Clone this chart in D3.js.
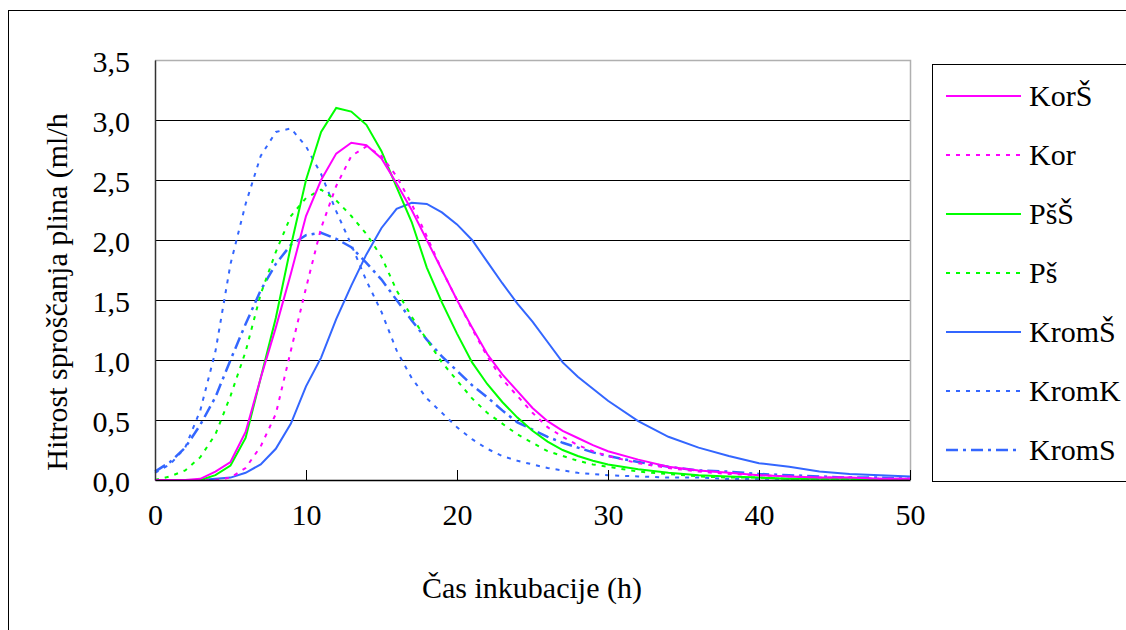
<!DOCTYPE html>
<html><head><meta charset="utf-8"><script src="https://cdn.jsdelivr.net/npm/d3@7"></script></head>
<body style="margin:0">
<svg id="s" width="1126" height="630"></svg>
<script>
// hours of incubation
var hours = [0,1,2,3,4,5,6,7,8,9,10,11,12,13,14,15,16,17,18,19,20,
	21,22,23,24,25,26,27,28,29,30,32,34,36,38,40,42,44,46,48,50];

var korS  = [0,0,0,0.01,0.07,0.15,0.4,0.85,1.27,1.72,2.2,2.5,2.72,2.81,2.79,2.68,2.47,2.25,2.0,1.75,1.5,
	1.27,1.05,0.88,0.74,0.6,0.49,0.41,0.35,0.29,0.24,0.17,0.11,0.08,0.06,0.04,0.03,0.02,0.02,0.01,0.01];
var kor   = [0,0,0,0,0,0.02,0.1,0.28,0.55,1.08,1.6,2.1,2.45,2.7,2.78,2.7,2.53,2.3,2.03,1.75,1.5,
	1.26,1.03,0.84,0.7,0.56,0.44,0.36,0.29,0.24,0.2,0.14,0.1,0.07,0.05,0.04,0.03,0.02,0.02,0.01,0.01];
var psS   = [0,0,0,0,0.04,0.12,0.35,0.85,1.35,1.95,2.5,2.9,3.1,3.07,2.96,2.74,2.44,2.15,1.77,1.48,1.22,
	0.98,0.8,0.65,0.52,0.41,0.32,0.25,0.2,0.16,0.13,0.09,0.06,0.04,0.03,0.02,0.01,0.01,0.01,0,0];
var ps    = [0,0.03,0.08,0.19,0.38,0.7,1.07,1.55,1.9,2.2,2.35,2.42,2.33,2.2,2.05,1.86,1.58,1.36,1.17,0.98,0.83,
	0.68,0.56,0.47,0.38,0.31,0.24,0.2,0.16,0.13,0.11,0.07,0.05,0.03,0.02,0.02,0.01,0.01,0.01,0,0];
var kromS = [0,0,0,0,0.01,0.02,0.06,0.13,0.26,0.47,0.78,1.02,1.34,1.62,1.88,2.1,2.26,2.31,2.3,2.23,2.13,
	2.0,1.82,1.64,1.47,1.32,1.15,0.98,0.86,0.76,0.66,0.49,0.36,0.27,0.2,0.14,0.11,0.07,0.05,0.04,0.03];
var kromK = [0.06,0.13,0.27,0.58,1.07,1.8,2.3,2.7,2.9,2.93,2.78,2.55,2.24,1.96,1.66,1.4,1.08,0.85,0.68,0.56,0.44,
	0.34,0.26,0.2,0.16,0.13,0.1,0.08,0.06,0.05,0.04,0.03,0.02,0.02,0.01,0.01,0.01,0.01,0.01,0.01,0.01];
var kromSS = [0.07,0.15,0.27,0.46,0.69,1.0,1.3,1.58,1.8,1.96,2.04,2.06,2.01,1.94,1.81,1.67,1.5,1.33,1.17,1.03,0.91,
	0.79,0.69,0.58,0.48,0.42,0.36,0.31,0.27,0.23,0.2,0.15,0.11,0.08,0.07,0.05,0.04,0.03,0.02,0.02,0.01];

var seriesNames = ["KorŠ", "Kor", "PšŠ", "Pš", "KromŠ", "KromK", "KromS"];
var seriesValues = [korS, kor, psS, ps, kromS, kromK, kromSS];
var seriesColors = ["#ff00ff", "#ff00ff", "#00ff00", "#00ff00", "#3366ff", "#3366ff", "#3366ff"];
var seriesDash = [null, "4,6", null, "4,6", null, "4,6", "12,5,3,5"];

var xTicks = [0, 10, 20, 30, 40, 50];
var yTicks = [0, 0.5, 1, 1.5, 2, 2.5, 3, 3.5];

var textStyle = "font-family: 'Liberation Serif' !important; font-size: 30px; fill: #000";

var svg = d3.select("#s");

// outer frame
svg.append("rect")
	.attr("x", 8.5).attr("y", 10.5)
	.attr("width", 1130).attr("height", 640)
	.attr("fill", "none").attr("stroke", "#000").attr("stroke-width", 1);

var plotLeft = 155, plotRight = 910, plotTop = 60, plotBottom = 480;

var x = d3.scaleLinear().domain([0, 50]).range([plotLeft, plotRight]);
var y = d3.scaleLinear().domain([0, 3.5]).range([plotBottom, plotTop]);

// gridlines
svg.append("g").selectAll("line")
	.data(yTicks.filter(function (d) { return d > 0 && d < 3.5; }))
	.enter().append("line")
	.attr("x1", plotLeft).attr("x2", plotRight)
	.attr("y1", function (d) { return Math.round(y(d)) + 0.5; })
	.attr("y2", function (d) { return Math.round(y(d)) + 0.5; })
	.attr("stroke", "#000").attr("stroke-width", 1);

// plot area border (top/right grey)
svg.append("path")
	.attr("d", "M" + plotLeft + "," + (plotTop + 0.5) + "H" + (plotRight + 0.5) + "V" + plotBottom)
	.attr("fill", "none").attr("stroke", "#b0b0b0").attr("stroke-width", 1.5);

// lines
var line = d3.line()
	.x(function (d) { return x(d[0]); })
	.y(function (d) { return y(d[1]); });

[6, 5, 4, 3, 2, 1, 0].forEach(function (i) {
	var pts = hours.map(function (h, j) { return [h, seriesValues[i][j]]; });
	svg.append("path")
		.datum(pts)
		.attr("d", line)
		.attr("fill", "none")
		.attr("stroke", seriesColors[i])
		.attr("stroke-width", i === 6 ? 2.5 : 2)
		.attr("stroke-dasharray", seriesDash[i]);
});

// axes (lines from d3 axes, labels restyled)
var xAxis = svg.append("g")
	.attr("transform", "translate(0," + plotBottom + ")")
	.call(d3.axisBottom(x).tickValues(xTicks).tickSizeInner(-10).tickSizeOuter(0).tickFormat(d3.format("d")));
xAxis.attr("font-family", null).attr("font-size", null);
xAxis.select(".domain").attr("stroke", "#000").attr("stroke-width", 1.5);
xAxis.selectAll(".tick line").attr("stroke", "#000");
xAxis.selectAll(".tick text")
	.attr("y", 34).attr("dy", "0.35em")
	.attr("style", textStyle);

var yAxis = svg.append("g")
	.attr("transform", "translate(" + plotLeft + ",0)")
	.call(d3.axisLeft(y).tickValues(yTicks).tickSize(0).tickPadding(25)
		.tickFormat(function (d) { return d3.format(".1f")(d).replace(".", ","); }));
yAxis.attr("font-family", null).attr("font-size", null);
yAxis.select(".domain").attr("stroke", "#333").attr("stroke-width", 1.5);
yAxis.selectAll(".tick text")
	.attr("dy", "0.38em")
	.attr("style", textStyle);

// axis titles
svg.append("text")
	.attr("x", 532).attr("y", 598)
	.attr("text-anchor", "middle")
	.attr("style", textStyle)
	.text("Čas inkubacije (h)");

svg.append("text")
	.attr("transform", "translate(67,292) rotate(-90)")
	.attr("text-anchor", "middle")
	.attr("style", textStyle)
	.text("Hitrost sproščanja plina (ml/h");

// legend
var legend = svg.append("g");
legend.append("rect")
	.attr("x", 932.5).attr("y", 64.5)
	.attr("width", 200).attr("height", 417)
	.attr("fill", "none").attr("stroke", "#000").attr("stroke-width", 1);

var legRows = legend.selectAll("g.row")
	.data(seriesNames)
	.enter().append("g")
	.attr("class", "row")
	.attr("transform", function (d, i) { return "translate(0," + (96 + i * 59) + ")"; });

legRows.append("line")
	.attr("x1", 946).attr("x2", 1021)
	.attr("stroke", function (d, i) { return seriesColors[i]; })
	.attr("stroke-width", function (d, i) { return i === 6 ? 2.5 : 2; })
	.attr("stroke-dasharray", function (d, i) { return seriesDash[i]; });

legRows.append("text")
	.attr("x", 1029).attr("y", 10)
	.attr("style", textStyle)
	.text(function (d) { return d; });
</script>
</body></html>
